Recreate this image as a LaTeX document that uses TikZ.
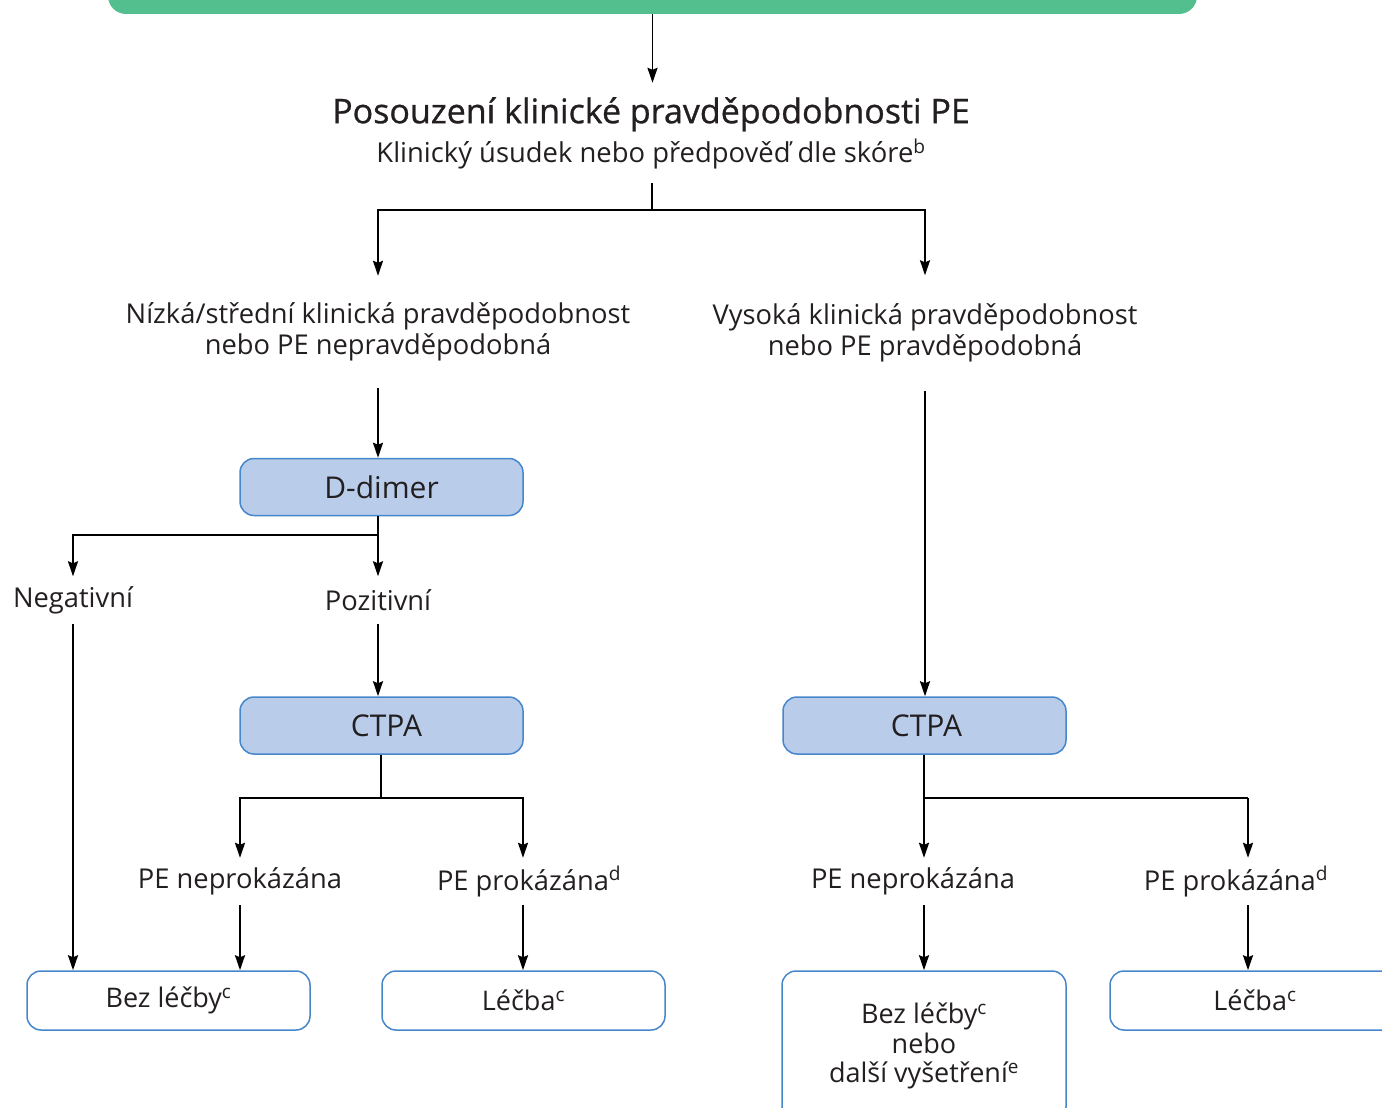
\documentclass[tikz,border=0pt]{standalone}
\usepackage{fontspec}
\setmainfont{Open Sans}
\usetikzlibrary{arrows.meta}
\definecolor{txt}{RGB}{35,31,32}
\definecolor{topgreen}{RGB}{84,191,142}
\definecolor{bfill}{RGB}{185,205,235}
\definecolor{bborder}{RGB}{70,134,202}
\begin{document}
\begin{tikzpicture}[x=1pt,y=-1pt,
  every node/.style={text=txt},
  arr/.style={draw=black, line width=1.9pt, -{Stealth[length=15pt,width=10pt,inset=2pt]}},
  ln/.style={draw=black, line width=1.9pt},
  bluebox/.style={draw=bborder, fill=bfill, rounded corners=14pt, line width=1.5pt, minimum width=283pt, minimum height=57pt, inner sep=0pt, font=\fontsize{30}{34}\selectfont},
  whitebox/.style={draw=bborder, fill=white, rounded corners=14pt, line width=1.5pt, minimum width=283pt, minimum height=59pt, inner sep=0pt, align=center, font=\fontsize{27}{29.5}\selectfont},
  lab/.style={font=\fontsize{27.3}{31}\selectfont, align=center, inner sep=0pt}]
\useasboundingbox (0,0) rectangle (1382,1108);
\clip (0,0) rectangle (1382,1108);

% top green box
\node[fill=topgreen, rounded corners=18pt, minimum width=1089pt, minimum height=80pt, inner sep=0pt] (top) at (652.5,-26) {};

% title
\node[align=center, minimum height=100pt, inner sep=0pt, font=\fontsize{27.4}{39}\selectfont] (title) at (651,133)
  {{\fontsize{34}{39}\selectfont\addfontfeature{FakeBold=0.8}Posouzení klinické pravděpodobnosti PE}\\Klinický úsudek nebo předpověď dle skóre\textsuperscript{b}};

% probability labels
\node[lab, minimum height=112pt] (low) at (378,332) {Nízká/střední klinická pravděpodobnost\\nebo PE nepravděpodobná};
\node[lab, minimum height=115pt] (high) at (925,333) {Vysoká klinická pravděpodobnost\\nebo PE pravděpodobná};

% left branch
\node[bluebox] (dd) at (381.5,487) {D-dimer};
\node[lab, minimum height=47pt] (neg) at (73,600) {Negativní};
\node[lab, minimum height=47pt] (poz) at (378,600) {Pozitivní};
\node[bluebox] (ctpa1) at (381.5,725.5) {\hspace*{10pt}CTPA};
\node[lab, minimum height=47pt] (nep1) at (240,881.5) {PE neprokázána};
\node[lab, minimum height=47pt] (pro1) at (523,881.5) {PE prokázána\rlap{\textsuperscript{d}}};
\node[whitebox] (bez1) at (168.5,1000.5) {Bez léčby\textsuperscript{c}};
\node[whitebox] (lec1) at (523.5,1000.5) {Léčba\textsuperscript{c}};

% right branch
\node[bluebox] (ctpa2) at (924.5,725.5) {\hspace*{4pt}CTPA};
\node[lab, minimum height=47pt] (nep2) at (913,881.5) {PE neprokázána};
\node[lab, minimum height=47pt] (pro2) at (1236,881.5) {PE prokázána\textsuperscript{d}};
\node[whitebox, minimum width=284pt, minimum height=150pt] (bez2) at (924,1046) {Bez léčby\textsuperscript{c}\\nebo\\další vyšetření\textsuperscript{e}};
\node[whitebox, minimum width=290pt] (lec2) at (1255,1000.5) {Léčba\textsuperscript{c}};

% connectors
\coordinate (s0) at (652,210);
\draw[arr] (top.south) -- (top.south |- title.north);
\draw[ln] (title.south -| s0) -- (s0);
\draw[arr] (s0) -| (low.north);
\draw[arr] (s0) -| (high.north);
\draw[arr] (low.south) -- (low.south |- dd.north);

\coordinate (s1) at (378,535);
\draw[ln] (dd.south -| s1) -- (s1);
\draw[arr] (s1) -| (neg.north);
\draw[arr] (s1) -- (s1 |- poz.north);
\draw[arr] (poz.south) -- (poz.south |- ctpa1.north);
\draw[arr] (neg.south) -- (neg.south |- bez1.north);

\coordinate (s2) at (381,798);
\draw[ln] (ctpa1.south -| s2) -- (s2);
\draw[arr] (s2) -| (nep1.north);
\draw[arr] (s2) -| (pro1.north);
\draw[arr] (nep1.south) -- (nep1.south |- bez1.north);
\draw[arr] (pro1.south) -- (pro1.south |- lec1.north);

\draw[arr] (high.south) -- (high.south |- ctpa2.north);
\coordinate (s3) at (924,798);
\coordinate (r3) at (1248,798);
\draw[ln] (ctpa2.south -| s3) -- (s3) -- (r3);
\draw[arr] (s3) -- (s3 |- nep2.north);
\draw[arr] (r3) -- (r3 |- pro2.north);
\draw[arr] (s3 |- nep2.south) -- (s3 |- bez2.north);
\draw[arr] (r3 |- pro2.south) -- (r3 |- lec2.north);
\end{tikzpicture}
\end{document}
